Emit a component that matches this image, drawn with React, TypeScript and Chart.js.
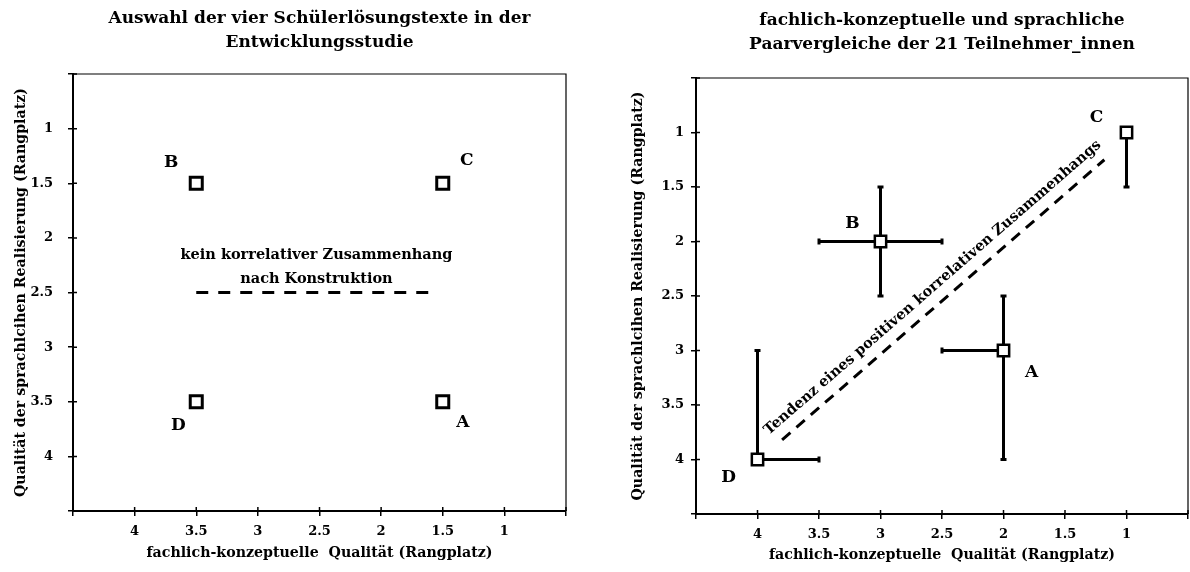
import React, { useEffect, useRef } from 'react';
import { Chart, registerables } from 'chart.js';
Chart.register(...registerables);

const FONT = '"DejaVu Serif", serif';

// ---------- shared axis data ----------
const RANGE_MIN = 0.5;
const RANGE_MAX = 4.5;
const STEP = 0.5;
const tickLabels = ['1', '1.5', '2', '2.5', '3', '3.5', '4'];
const xAxisTitle = 'fachlich-konzeptuelle  Qualität (Rangplatz)';
const yAxisTitle = 'Qualität der sprachlcihen Realisierung (Rangplatz)';

// ---------- left panel data ----------
const leftTitle = ['Auswahl der vier Schülerlösungstexte in der', 'Entwicklungsstudie'];
const leftNames = ['A', 'B', 'C', 'D'];
const leftX = [1.5, 3.5, 1.5, 3.5];
const leftY = [3.5, 1.5, 1.5, 3.5];
const leftTrendX = [3.5, 1.55];
const leftTrendY = [2.5, 2.5];
const leftTrendText = ['kein korrelativer Zusammenhang', 'nach Konstruktion'];

// ---------- right panel data ----------
const rightTitle = ['fachlich-konzeptuelle und sprachliche', 'Paarvergleiche der 21 Teilnehmer_innen'];
const rightNames = ['A', 'B', 'C', 'D'];
const rightX = [2, 3, 1, 4];
const rightY = [3, 2, 1, 4];
const rightXErrFrom = [2.5, 3.5, 1, 4];
const rightXErrTo = [2, 2.5, 1, 3.5];
const rightYErrFrom = [2.5, 1.5, 1, 3];
const rightYErrTo = [4, 2.5, 1.5, 4];
const rightTrendX = [3.8, 1.18];
const rightTrendY = [3.82, 1.25];
const rightTrendText = 'Tendenz eines positiven korrelativen Zusammenhangs';

// ---------- layout / style ----------
const leftLayout = {
  area: { left: 73, right: 566, top: 74, bottom: 511 },
  yTitlePad: 13, xTitlePad: 10, yLabelPad: 15, xLabelPad: 8,
  titleLines: [19, 43],
  titleSize: 17,
  marker: { r: 8.5, w: 3 },
  labelOffsets: { A: [20, 21], B: [-25, -21], C: [24, -23], D: [-18, 24] } as Record<string, number[]>,
  dash: [12, 10],
};
const rightLayout = {
  area: { left: 101, right: 593, top: 78, bottom: 514 },
  yTitlePad: 35, xTitlePad: 8, yLabelPad: 7, xLabelPad: 8,
  titleLines: [21, 45],
  titleSize: 17,
  marker: { r: 8, w: 2.5 },
  labelOffsets: { A: [28, 22], B: [-28, -18], C: [-30, -15], D: [-29, 18] } as Record<string, number[]>,
  dash: [11, 8],
};
const W = 595;
const H = 572;

function axis(kind: 'x' | 'y', size: number, titlePad: number, labelPad: number) {
  return {
    type: 'linear',
    position: kind === 'x' ? 'bottom' : 'left',
    reverse: true,
    min: RANGE_MIN,
    max: RANGE_MAX,
    afterFit: (s: any) => {
      if (kind === 'x') {
        s.height = size;
        s.paddingLeft = 0;
        s.paddingRight = 0;
      } else {
        s.width = size;
        s.paddingTop = 0;
        s.paddingBottom = 0;
      }
    },
    ticks: {
      stepSize: STEP,
      autoSkip: false,
      maxRotation: 0,
      minRotation: 0,
      padding: labelPad,
      color: '#000',
      font: { family: FONT, size: 13, weight: 'bold' },
      callback: (v: any) => (tickLabels.includes(String(v)) ? String(v) : ''),
    },
    grid: { display: true, drawOnChartArea: false, drawTicks: true, tickLength: 5, color: '#000', lineWidth: 1.5 },
    border: { display: true, color: '#000', width: 2 },
    title: {
      display: true,
      text: kind === 'x' ? xAxisTitle : yAxisTitle,
      color: '#000',
      font: { family: FONT, size: 14.2, weight: 'bold' },
      padding: kind === 'x' ? { top: 0, bottom: titlePad } : { top: titlePad, bottom: 0 },
    },
  };
}

function decorPlugin(cfg: any) {
  return {
    id: 'decor',
    afterDraw(chart: any) {
      const ctx = chart.ctx;
      const a = chart.chartArea;
      const xs = chart.scales.x;
      const ys = chart.scales.y;
      ctx.save();
      // frame top / right
      ctx.strokeStyle = '#000';
      ctx.lineWidth = 1.2;
      ctx.beginPath();
      ctx.moveTo(a.left, a.top);
      ctx.lineTo(a.right, a.top);
      ctx.lineTo(a.right, a.bottom);
      ctx.stroke();
      // inward tick marks
      ctx.lineWidth = 1.5;
      ctx.beginPath();
      xs.ticks.forEach((t: any) => {
        const px = xs.getPixelForValue(t.value);
        ctx.moveTo(px, a.bottom);
        ctx.lineTo(px, a.bottom - 4);
      });
      ys.ticks.forEach((t: any) => {
        const py = ys.getPixelForValue(t.value);
        ctx.moveTo(a.left, py);
        ctx.lineTo(a.left + 4, py);
      });
      ctx.stroke();
      // title
      ctx.fillStyle = '#000';
      ctx.textAlign = 'center';
      ctx.textBaseline = 'middle';
      ctx.font = `bold ${cfg.layout.titleSize}px ${FONT}`;
      const tx = (a.left + a.right) / 2;
      cfg.title.forEach((line: string, i: number) => ctx.fillText(line, tx, cfg.layout.titleLines[i]));
      // point labels
      ctx.font = `bold 17px ${FONT}`;
      cfg.names.forEach((n: string, i: number) => {
        const off = cfg.layout.labelOffsets[n];
        const px = xs.getPixelForValue(cfg.xv[i]) + off[0];
        const py = ys.getPixelForValue(cfg.yv[i]) + off[1];
        ctx.fillText(n, px, py);
      });
      // trend annotation
      const p1 = { x: xs.getPixelForValue(cfg.trendX[0]), y: ys.getPixelForValue(cfg.trendY[0]) };
      const p2 = { x: xs.getPixelForValue(cfg.trendX[1]), y: ys.getPixelForValue(cfg.trendY[1]) };
      const mx = (p1.x + p2.x) / 2;
      const my = (p1.y + p2.y) / 2;
      ctx.font = `bold 14.5px ${FONT}`;
      if (Array.isArray(cfg.trendText)) {
        const n = cfg.trendText.length;
        cfg.trendText.forEach((line: string, i: number) => {
          ctx.fillText(line, mx, my - 13 - (n - 1 - i) * 24);
        });
      } else {
        const ang = Math.atan2(p2.y - p1.y, p2.x - p1.x);
        const nx = Math.sin(ang);
        const ny = -Math.cos(ang);
        ctx.translate(mx + nx * 16, my + ny * 16);
        ctx.rotate(ang);
        ctx.fillText(cfg.trendText, 0, 0);
      }
      ctx.restore();
    },
  };
}

function buildConfig(cfg: any) {
  const L = cfg.layout;
  const datasets: any[] = [];
  datasets.push({
    label: 'points',
    data: cfg.xv.map((x: number, i: number) => ({ x, y: cfg.yv[i] })),
    pointStyle: 'rect',
    pointRadius: L.marker.r,
    pointBorderWidth: L.marker.w,
    pointBackgroundColor: '#fff',
    pointBorderColor: '#000',
    showLine: false,
  });
  datasets.push({
    label: 'trend',
    data: cfg.trendX.map((x: number, i: number) => ({ x, y: cfg.trendY[i] })),
    showLine: true,
    borderColor: '#000',
    borderWidth: 3,
    borderDash: L.dash,
    pointRadius: 0,
  });
  if (cfg.xErrFrom) {
    cfg.xv.forEach((x: number, i: number) => {
      if (cfg.xErrFrom[i] !== cfg.xErrTo[i]) {
        datasets.push({
          label: 'xerr' + i,
          data: [
            { x: cfg.xErrFrom[i], y: cfg.yv[i] },
            { x: cfg.xErrTo[i], y: cfg.yv[i] },
          ],
          showLine: true,
          borderColor: '#000',
          borderWidth: 3,
          pointStyle: 'line',
          pointRotation: 90,
          pointRadius: 3,
          pointBorderWidth: 3,
          pointBorderColor: '#000',
        });
      }
      if (cfg.yErrFrom[i] !== cfg.yErrTo[i]) {
        datasets.push({
          label: 'yerr' + i,
          data: [
            { x, y: cfg.yErrFrom[i] },
            { x, y: cfg.yErrTo[i] },
          ],
          showLine: true,
          borderColor: '#000',
          borderWidth: 3,
          pointStyle: 'line',
          pointRotation: 0,
          pointRadius: 3,
          pointBorderWidth: 3,
          pointBorderColor: '#000',
        });
      }
    });
  }
  return {
    type: 'scatter',
    data: { datasets },
    options: {
      responsive: false,
      animation: false,
      events: [],
      layout: { autoPadding: false, padding: { left: 0, top: L.area.top, right: W - L.area.right, bottom: 0 } },
      plugins: { legend: { display: false }, tooltip: { enabled: false }, title: { display: false } },
      scales: {
        x: axis('x', H - L.area.bottom, L.xTitlePad, L.xLabelPad),
        y: axis('y', L.area.left, L.yTitlePad, L.yLabelPad),
      },
    },
    plugins: [decorPlugin(cfg)],
  };
}

const leftCfg = {
  layout: leftLayout, title: leftTitle, names: leftNames, xv: leftX, yv: leftY,
  trendX: leftTrendX, trendY: leftTrendY, trendText: leftTrendText,
};
const rightCfg = {
  layout: rightLayout, title: rightTitle, names: rightNames, xv: rightX, yv: rightY,
  xErrFrom: rightXErrFrom, xErrTo: rightXErrTo, yErrFrom: rightYErrFrom, yErrTo: rightYErrTo,
  trendX: rightTrendX, trendY: rightTrendY, trendText: rightTrendText,
};

function Panel({ cfg, left }: { cfg: any; left: number }) {
  const ref = useRef<HTMLCanvasElement>(null);
  useEffect(() => {
    if (!ref.current) return;
    const chart = new Chart(ref.current, buildConfig(cfg) as any);
    return () => chart.destroy();
  }, []);
  return (
    <canvas
      ref={ref}
      width={W}
      height={H}
      style={{ position: 'absolute', left, top: 0, width: W, height: H }}
    />
  );
}

export default function App() {
  return (
    <div style={{ position: 'fixed', left: 0, top: 0, width: 1190, height: 572, background: '#fff' }}>
      <Panel cfg={leftCfg} left={0} />
      <Panel cfg={rightCfg} left={595} />
    </div>
  );
}
